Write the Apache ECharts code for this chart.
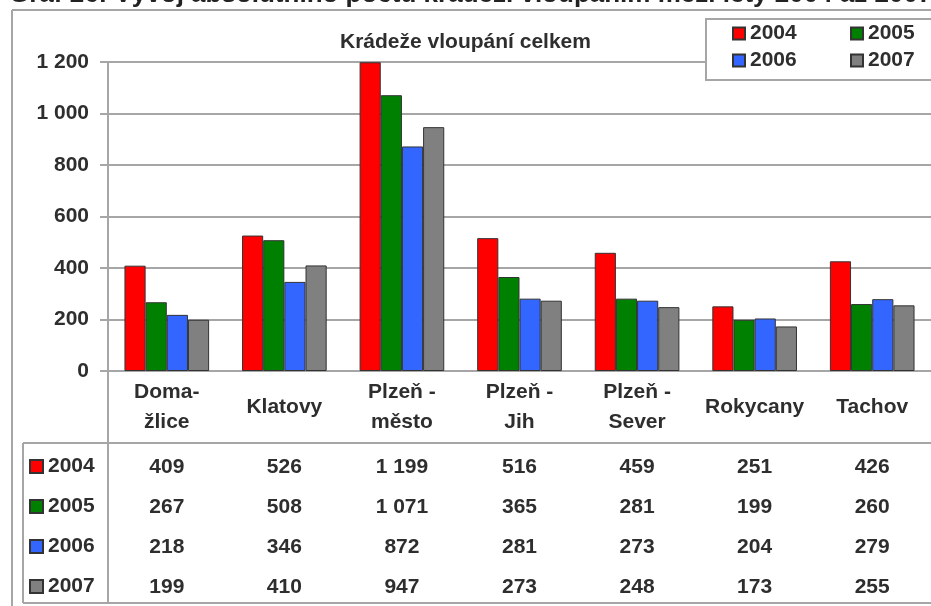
<!DOCTYPE html>
<html lang="cs">
<head>
    <meta charset="UTF-8">
    <title>Krádeže vloupání celkem</title>
    <script src="https://cdn.jsdelivr.net/npm/echarts@6.0.0/dist/echarts.min.js"></script>
    <style>
        html, body { margin: 0; padding: 0; background: #fff; }
        #chart { width: 931px; height: 606px; }
    </style>
</head>
<body>
    <div id="chart"></div>
    <script>
        const categories = ['Doma-\nžlice', 'Klatovy', 'Plzeň -\nměsto', 'Plzeň -\nJih', 'Plzeň -\nSever', 'Rokycany', 'Tachov'];
        const years = ['2004', '2005', '2006', '2007'];
        const v2004 = [409, 526, 1199, 516, 459, 251, 426];
        const v2005 = [267, 508, 1071, 365, 281, 199, 260];
        const v2006 = [218, 346, 872, 281, 273, 204, 279];
        const v2007 = [199, 410, 947, 273, 248, 173, 255];
        const colors = ['#ff0000', '#008000', '#3366ff', '#808080'];
        const yMin = 0, yMax = 1200, yStep = 200;

        const values = [v2004, v2005, v2006, v2007];
        const FONT = "'Liberation Sans', Arial, sans-serif";
        const TXT = '#2e2e2e';
        const LINE = '#a6a6a6';

        // 1 199 -> "1 199"
        function fmt(v) {
            return String(v).replace(/\B(?=(\d{3})+(?!\d))/g, ' ');
        }

        const chart = echarts.init(document.getElementById('chart'));

        const labelStyle = {
            fontFamily: FONT,
            fontWeight: 'bold',
            fontSize: 21,
            color: TXT
        };

        // axis 0 = categories, axes 1..4 = rows of the data table
        const rowOffsets = [96, 136, 176, 216];
        const xAxes = [{
            type: 'category',
            data: categories,
            axisLine: { lineStyle: { color: LINE, width: 2 } },
            axisTick: { show: false },
            axisLabel: Object.assign({ interval: 0, margin: 36, lineHeight: 30, verticalAlign: 'middle' }, labelStyle)
        }];
        values.forEach((vals, i) => {
            xAxes.push({
                type: 'category',
                position: 'bottom',
                offset: rowOffsets[i],
                data: vals.map(fmt),
                axisLine: { show: false },
                axisTick: { show: false },
                axisLabel: Object.assign({ interval: 0, margin: 0, verticalAlign: 'middle' }, labelStyle)
            });
        });

        const series = years.map((y, i) => ({
            name: y,
            type: 'bar',
            data: values[i],
            barGap: '0%',
            barCategoryGap: '28%',
            itemStyle: { color: colors[i], borderColor: '#333', borderWidth: 1 }
        }));

        const option = {
            backgroundColor: '#fff',
            animation: false,
            title: [{
                text: 'Graf 26: Vývoj absolutního počtu krádeží vloupáním mezi lety 2004 až 2007',
                left: 9,
                top: -18,
                padding: 0,
                textStyle: { fontFamily: FONT, fontWeight: 'bold', fontSize: 26, lineHeight: 26, color: '#222' }
            }, {
                text: 'Krádeže vloupání celkem',
                left: 340,
                top: 32,
                padding: 0,
                textStyle: { fontFamily: FONT, fontWeight: 'bold', fontSize: 21, color: TXT }
            }],
            legend: [{
                data: years,
                left: 706,
                top: 19,
                width: 230,
                padding: [4, 40, 9, 26],
                itemGap: 6,
                itemWidth: 12,
                itemHeight: 12,
                icon: 'rect',
                backgroundColor: '#fff',
                borderColor: LINE,
                borderWidth: 2,
                textStyle: Object.assign({ width: 94, lineHeight: 21 }, labelStyle)
            }, {
                data: years,
                orient: 'vertical',
                left: 29,
                top: 456,
                padding: 0,
                itemGap: 19,
                itemWidth: 13,
                itemHeight: 13,
                icon: 'rect',
                textStyle: Object.assign({ lineHeight: 21 }, labelStyle)
            }],
            grid: {
                left: 108,
                top: 62,
                width: 827,
                height: 309
            },
            xAxis: xAxes,
            yAxis: {
                type: 'value',
                min: yMin,
                max: yMax,
                interval: yStep,
                axisLine: { show: true, lineStyle: { color: LINE, width: 2 } },
                axisTick: { show: true, length: 8, lineStyle: { color: LINE, width: 2 } },
                splitLine: { lineStyle: { color: LINE, width: 2 } },
                axisLabel: Object.assign({ margin: 19, formatter: fmt }, labelStyle)
            },
            // frame of the chart and of the data table
            graphic: [
                { type: 'line', shape: { x1: 12, y1: 10, x2: 931, y2: 10 }, style: { stroke: LINE, lineWidth: 2 } },
                { type: 'line', shape: { x1: 12, y1: 10, x2: 12, y2: 606 }, style: { stroke: LINE, lineWidth: 2 } },
                { type: 'line', shape: { x1: 23, y1: 443, x2: 931, y2: 443 }, style: { stroke: LINE, lineWidth: 2 } },
                { type: 'line', shape: { x1: 23, y1: 603, x2: 931, y2: 603 }, style: { stroke: LINE, lineWidth: 2 } },
                { type: 'line', shape: { x1: 23, y1: 443, x2: 23, y2: 603 }, style: { stroke: LINE, lineWidth: 2 } },
                { type: 'line', shape: { x1: 108, y1: 371, x2: 108, y2: 603 }, style: { stroke: LINE, lineWidth: 2 } }
            ],
            series: series
        };

        chart.setOption(option);
    </script>
</body>
</html>
